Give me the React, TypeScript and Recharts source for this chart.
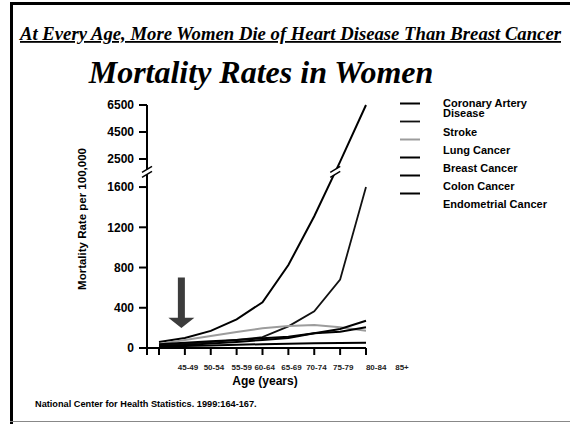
import { LineChart, Line, XAxis, YAxis } from "recharts";

const ages = ["45-49", "50-54", "55-59", "60-64", "65-69", "70-74", "75-79", "80-84", "85+"];
// the slide's age labels sit a little to the right of their ticks, unevenly
const ageLabelNudge = [0, 0, 2, -1, 0, -1, 0, 7, 7];

const coronaryArteryDisease = [60, 100, 170, 285, 455, 825, 1310, 2300, 6500];
const stroke = [30, 42, 58, 80, 108, 215, 365, 680, 1600];
const lungCancer = [40, 80, 119, 160, 196, 219, 229, 206, 172];
const breastCancer = [38, 52, 66, 80, 96, 112, 146, 162, 206];
const colonCancer = [20, 30, 44, 60, 80, 100, 146, 189, 271];
const endometrialCancer = [15, 20, 26, 32, 38, 42, 46, 50, 53];

const yTickLabels = [0, 400, 800, 1200, 1600, 2500, 4500, 6500];

const seriesKeys = ["cad", "stroke", "lung", "breast", "colon", "endometrial"];
const seriesNames = [
  "Coronary Artery Disease",
  "Stroke",
  "Lung Cancer",
  "Breast Cancer",
  "Colon Cancer",
  "Endometrial Cancer",
];
const seriesValues = [
  coronaryArteryDisease,
  stroke,
  lungCancer,
  breastCancer,
  colonCancer,
  endometrialCancer,
];
const seriesColors = ["#000", "#111", "#9c9c9c", "#000", "#000", "#000"];
const seriesWidths = [2, 1.8, 2, 2, 2, 2];

// broken y axis: 0-1700 drawn as is, everything from 2500 up squeezed
const BREAK_AT = 1700;
const UPPER_BASE = 1879;
const UPPER_SCALE = 0.1342;
const toAxis = (v: number) => (v <= BREAK_AT ? v : UPPER_BASE + (v - 2500) * UPPER_SCALE);
const Y_MAX = toAxis(6500);
const BREAK_MARK = 1750;
const yTicks = yTickLabels.map(toAxis);

const data = ages.map((age, i) => {
  const row: Record<string, string | number> = { age };
  seriesKeys.forEach((k, s) => {
    row[k] = toAxis(seriesValues[s][i]);
  });
  return row;
});

const W = 570;
const H = 424;
const PLOT_LEFT = 147;
const PLOT_TOP = 105;
const PLOT_RIGHT = 366;
const PLOT_BOTTOM = 348;
const X_PAD = 12;

const SANS = "'Liberation Sans', Arial, sans-serif";
const SERIF = "'Liberation Serif', 'Times New Roman', serif";

const yPix = (d: number) => PLOT_BOTTOM - (d / Y_MAX) * (PLOT_BOTTOM - PLOT_TOP);
const xStep = (PLOT_RIGHT - PLOT_LEFT - X_PAD) / (ages.length - 1);
const xPix = (i: number) => PLOT_LEFT + X_PAD + i * xStep;

function BreakMark({ x, y }: { x: number; y: number }) {
  const dx = 5;
  const dy = 3;
  const gap = 2.5;
  return (
    <g>
      <polygon
        points={`${x - dx},${y - gap + dy} ${x + dx},${y - gap - dy} ${x + dx},${y + gap - dy} ${x - dx},${y + gap + dy}`}
        fill="#fff"
      />
      <line x1={x - dx} y1={y - gap + dy} x2={x + dx} y2={y - gap - dy} stroke="#000" strokeWidth={1.5} />
      <line x1={x - dx} y1={y + gap + dy} x2={x + dx} y2={y + gap - dy} stroke="#000" strokeWidth={1.5} />
    </g>
  );
}

function cadBreakPoint() {
  const d = coronaryArteryDisease.map(toAxis);
  for (let i = 0; i < d.length - 1; i++) {
    if (d[i] < BREAK_MARK && d[i + 1] >= BREAK_MARK) {
      const t = (BREAK_MARK - d[i]) / (d[i + 1] - d[i]);
      return { x: xPix(i) + t * xStep, y: yPix(BREAK_MARK) };
    }
  }
  return null;
}

const XTick = ({ x, y, payload, index }: any) => (
  <text
    x={x + 29 + (ageLabelNudge[index] ?? 0)}
    y={y + 13}
    textAnchor="middle"
    fontFamily={SANS}
    fontWeight="bold"
    fontSize={8}
    fill="#222"
  >
    {payload.value}
  </text>
);

export default function App() {
  const cadBreak = cadBreakPoint();
  const arrowX = xPix(1) - 3.5;
  const arrowTop = yPix(toAxis(700));
  const arrowHead = yPix(toAxis(300));
  const arrowTip = yPix(toAxis(200));

  return (
    <div style={{ position: "relative", width: W, height: H, background: "#fff" }}>
      <style>{`body{margin:0}`}</style>
      <LineChart
        width={W}
        height={H}
        data={data}
        margin={{ top: PLOT_TOP, right: W - PLOT_RIGHT, bottom: 0, left: 0 }}
      >
        <XAxis
          dataKey="age"
          interval={0}
          height={H - PLOT_BOTTOM}
          padding={{ left: X_PAD, right: 0 }}
          tickSize={7}
          axisLine={{ stroke: "#000", strokeWidth: 2 }}
          tickLine={{ stroke: "#000", strokeWidth: 2 }}
          tick={<XTick />}
        />
        <YAxis
          type="number"
          width={PLOT_LEFT}
          domain={[0, Y_MAX]}
          ticks={yTicks}
          interval={0}
          tickSize={8}
          tickMargin={5}
          tickFormatter={(v: number) => String(yTickLabels[yTicks.indexOf(v)] ?? "")}
          axisLine={{ stroke: "#000", strokeWidth: 2 }}
          tickLine={{ stroke: "#000", strokeWidth: 2 }}
          tick={{ fontFamily: SANS, fontWeight: "bold", fontSize: 12, fill: "#000" }}
        />
        {seriesKeys.map((k, s) => (
          <Line
            key={k}
            dataKey={k}
            name={seriesNames[s]}
            type="linear"
            stroke={seriesColors[s]}
            strokeWidth={seriesWidths[s]}
            dot={false}
            isAnimationActive={false}
          />
        ))}
      </LineChart>

      <svg
        width={W}
        height={H}
        style={{ position: "absolute", left: 0, top: 0, pointerEvents: "none" }}
      >
        {/* slide frame */}
        <line x1={11.5} y1={2} x2={11.5} y2={H} stroke="#000" strokeWidth={3} />
        <line x1={10} y1={3.5} x2={W} y2={3.5} stroke="#000" strokeWidth={3} />
        <line x1={10} y1={421.5} x2={W} y2={421.5} stroke="#888" strokeWidth={1} />

        <text x={20} y={40} fontFamily={SERIF} fontWeight="bold" fontStyle="italic" fontSize={18} textDecoration="underline" textLength={541} lengthAdjust="spacingAndGlyphs">
          At Every Age, More Women Die of Heart Disease Than Breast Cancer
        </text>
        <text x={261} y={83} textAnchor="middle" fontFamily={SERIF} fontWeight="bold" fontStyle="italic" fontSize={32}>
          Mortality Rates in Women
        </text>

        <text transform="translate(86,219) rotate(-90)" textAnchor="middle" fontFamily={SANS} fontWeight="bold" fontSize={11.5}>
          Mortality Rate per 100,000
        </text>
        <text x={265} y={385} textAnchor="middle" fontFamily={SANS} fontWeight="bold" fontSize={12}>
          Age (years)
        </text>
        <text x={35} y={407} fontFamily={SANS} fontWeight="bold" fontSize={9.2}>
          National Center for Health Statistics. 1999:164-167.
        </text>

        {/* origin tick on x axis */}
        <line x1={PLOT_LEFT} y1={PLOT_BOTTOM} x2={PLOT_LEFT} y2={PLOT_BOTTOM + 7} stroke="#000" strokeWidth={2} />

        <BreakMark x={PLOT_LEFT} y={yPix(BREAK_MARK)} />
        {cadBreak && <BreakMark x={cadBreak.x} y={cadBreak.y} />}

        <polygon
          points={`${arrowX - 3.5},${arrowTop} ${arrowX + 3.5},${arrowTop} ${arrowX + 3.5},${arrowHead} ${arrowX + 13},${arrowHead} ${arrowX},${arrowTip} ${arrowX - 13},${arrowHead} ${arrowX - 3.5},${arrowHead}`}
          fill="#3c3c3c"
        />

        {/* legend */}
        {seriesNames.map((name, s) => {
          const lineY = 103.5 + s * 18;
          return (
            <g key={name}>
              <line x1={400} y1={lineY} x2={420} y2={lineY} stroke={seriesColors[s]} strokeWidth={seriesWidths[s]} />
              {s === 0 ? (
                <text x={443} y={107} fontFamily={SANS} fontWeight="bold" fontSize={11}>
                  <tspan x={443}>Coronary Artery</tspan>
                  <tspan x={443} dy={10}>Disease</tspan>
                </text>
              ) : (
                <text x={443} y={136 + (s - 1) * 18} fontFamily={SANS} fontWeight="bold" fontSize={11}>
                  {name}
                </text>
              )}
            </g>
          );
        })}
      </svg>
    </div>
  );
}
